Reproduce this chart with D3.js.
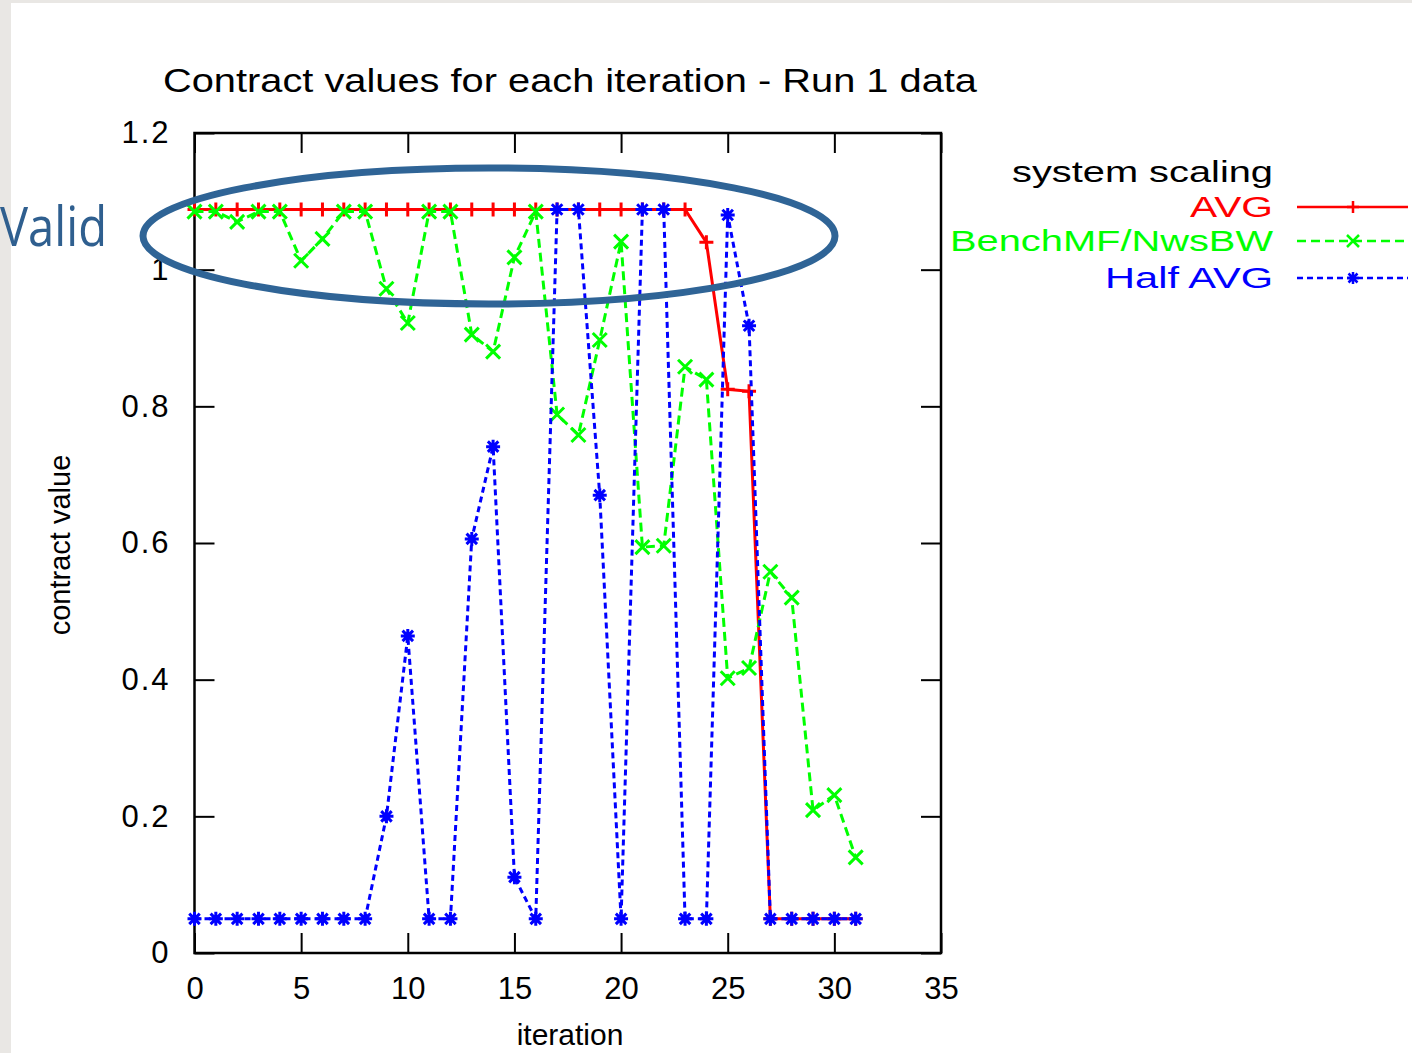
<!DOCTYPE html>
<html>
<head>
<meta charset="utf-8">
<script src="https://cdn.jsdelivr.net/npm/d3@7"></script>
<style>
  html, body { margin: 0; padding: 0; background: #fff; }
  svg { display: block; }
</style>
</head>
<body>
<svg id="chart"></svg>
<script>
// data
const iterations = d3.range(0, 32);
const avg = [1.088, 1.088, 1.088, 1.088, 1.088, 1.088, 1.088, 1.088, 1.088, 1.088,
  1.088, 1.088, 1.088, 1.088, 1.088, 1.088, 1.088, 1.088, 1.088, 1.088,
  1.088, 1.088, 1.088, 1.088, 1.04, 0.825, 0.822, 0.05, 0.05, 0.05, 0.05, 0.05];
const benchMF = [1.085, 1.085, 1.07, 1.085, 1.085, 1.013, 1.045, 1.085, 1.085, 0.972,
  0.922, 1.085, 1.085, 0.905, 0.88, 1.018, 1.085, 0.788, 0.758, 0.897,
  1.041, 0.594, 0.596, 0.858, 0.839, 0.402, 0.417, 0.558, 0.52, 0.209, 0.231, 0.14];
const halfAvg = [0.05, 0.05, 0.05, 0.05, 0.05, 0.05, 0.05, 0.05, 0.05, 0.2,
  0.464, 0.05, 0.05, 0.606, 0.741, 0.111, 0.05, 1.088, 1.088, 0.67,
  0.05, 1.088, 1.088, 0.05, 0.05, 1.08, 0.918, 0.05, 0.05, 0.05, 0.05, 0.05];
const xTicks = [0, 5, 10, 15, 20, 25, 30, 35];
const yTicks = [0, 0.2, 0.4, 0.6, 0.8, 1, 1.2];
const seriesNames = ["AVG", "BenchMF/NwsBW", "Half AVG"];

const width = 1412, height = 1053;
const svg = d3.select("#chart").attr("width", width).attr("height", height);
const font = "'Liberation Sans', Arial, sans-serif";

// slide texture edge
svg.append("rect").attr("x", 0).attr("y", 0).attr("width", 11).attr("height", height).attr("fill", "#e9e7e4");
svg.append("rect").attr("x", 0).attr("y", 0).attr("width", width).attr("height", 3).attr("fill", "#e9e7e4");

const x = d3.scaleLinear().domain([0, 35]).range([194.5, 941]);
const y = d3.scaleLinear().domain([0, 1.2]).range([953, 133]);

// axes, gnuplot style: ticks inside on all four sides
const tick = 20;
function styleAxis(g) {
  g.select(".domain").remove();
  g.selectAll(".tick line").attr("stroke", "#000").attr("stroke-width", 2);
  g.selectAll(".tick text").attr("font-family", font).attr("font-size", 31).attr("fill", "#000");
}
svg.append("g").attr("transform", `translate(0,${y(0)})`)
  .call(d3.axisBottom(x).tickValues(xTicks).tickSize(-tick).tickPadding(24).tickFormat(d3.format("d")))
  .call(styleAxis);
svg.append("g").attr("transform", `translate(0,${y(1.2)})`)
  .call(d3.axisTop(x).tickValues(xTicks).tickSize(-tick).tickFormat(""))
  .call(styleAxis);
svg.append("g").attr("transform", `translate(${x(0)},0)`)
  .call(d3.axisLeft(y).tickValues(yTicks).tickSize(-tick).tickPadding(24).tickFormat(d => d === 0 || d === 1 ? d3.format("d")(d) : d3.format(".1f")(d)))
  .call(styleAxis)
  .call(g => g.selectAll(".tick text").attr("letter-spacing", 2));
svg.append("g").attr("transform", `translate(${x(35)},0)`)
  .call(d3.axisRight(y).tickValues(yTicks).tickSize(-tick).tickFormat(""))
  .call(styleAxis);

svg.append("rect")
  .attr("x", x(0)).attr("y", y(1.2))
  .attr("width", x(35) - x(0)).attr("height", y(0) - y(1.2))
  .attr("fill", "none").attr("stroke", "#000").attr("stroke-width", 2.5);

// titles
svg.append("text").attr("x", 163).attr("y", 92)
  .attr("font-family", font).attr("font-size", 34)
  .attr("textLength", 814).attr("lengthAdjust", "spacingAndGlyphs")
  .text("Contract values for each iteration - Run 1 data");
svg.append("text").attr("transform", "translate(70,545) rotate(-90)")
  .attr("text-anchor", "middle").attr("font-family", font).attr("font-size", 29)
  .text("contract value");
svg.append("text").attr("x", 570).attr("y", 1045)
  .attr("text-anchor", "middle").attr("font-family", font).attr("font-size", 30)
  .text("iteration");

// marker shapes
function plusPath(s) { return `M${-s},0H${s}M0,${-s}V${s}`; }
function crossPath(s) { return `M${-s},${-s}L${s},${s}M${-s},${s}L${s},${-s}`; }
function starPath(s) { return plusPath(s) + crossPath(s * 0.75); }

const series = [
  { name: seriesNames[0], values: avg, color: "#ff0000", dash: null, marker: plusPath, size: 7 },
  { name: seriesNames[1], values: benchMF, color: "#00ff00", dash: "9,5", marker: crossPath, size: 7 },
  { name: seriesNames[2], values: halfAvg, color: "#0000ff", dash: "6,4", marker: starPath, size: 7 }
];

const line = d3.line().x((d, i) => x(iterations[i])).y(d => y(d));

series.forEach(s => {
  svg.append("path").datum(s.values)
    .attr("d", line)
    .attr("fill", "none").attr("stroke", s.color).attr("stroke-width", 3)
    .attr("stroke-dasharray", s.dash);
  svg.append("g").selectAll("path").data(s.values).join("path")
    .attr("transform", (d, i) => `translate(${x(iterations[i])},${y(d)})`)
    .attr("d", s.marker(s.size))
    .attr("fill", "none").attr("stroke", s.color).attr("stroke-width", 3);
});

// legend
const legendX = 1273;
svg.append("text").attr("x", legendX).attr("y", 182).attr("text-anchor", "end")
  .attr("font-family", font).attr("font-size", 30)
  .attr("textLength", 261).attr("lengthAdjust", "spacingAndGlyphs")
  .text("system scaling");
const legendRows = [
  { y: 207, len: 83 },
  { y: 241, len: 323 },
  { y: 278, len: 168 }
];
series.forEach((s, i) => {
  const r = legendRows[i];
  svg.append("text").attr("x", legendX).attr("y", r.y + 10).attr("text-anchor", "end")
    .attr("font-family", font).attr("font-size", 29).attr("fill", s.color)
    .attr("textLength", r.len).attr("lengthAdjust", "spacingAndGlyphs")
    .text(s.name);
  svg.append("line").attr("x1", 1297).attr("x2", 1408).attr("y1", r.y).attr("y2", r.y)
    .attr("stroke", s.color).attr("stroke-width", 2.5).attr("stroke-dasharray", s.dash);
  svg.append("path").attr("transform", `translate(1353,${r.y})`)
    .attr("d", s.marker(6)).attr("fill", "none").attr("stroke", s.color).attr("stroke-width", 2.5);
});

// annotation
svg.append("ellipse").attr("cx", 489).attr("cy", 236).attr("rx", 346).attr("ry", 68)
  .attr("fill", "none").attr("stroke", "#2f6496").attr("stroke-width", 7);
svg.append("text").attr("x", 0).attr("y", 246)
  .attr("font-family", "'Open Sans', 'Noto Sans', sans-serif").attr("font-size", 54)
  .attr("fill", "#2f5f8f").attr("textLength", 107).attr("lengthAdjust", "spacingAndGlyphs")
  .text("Valid");
</script>
</body>
</html>
